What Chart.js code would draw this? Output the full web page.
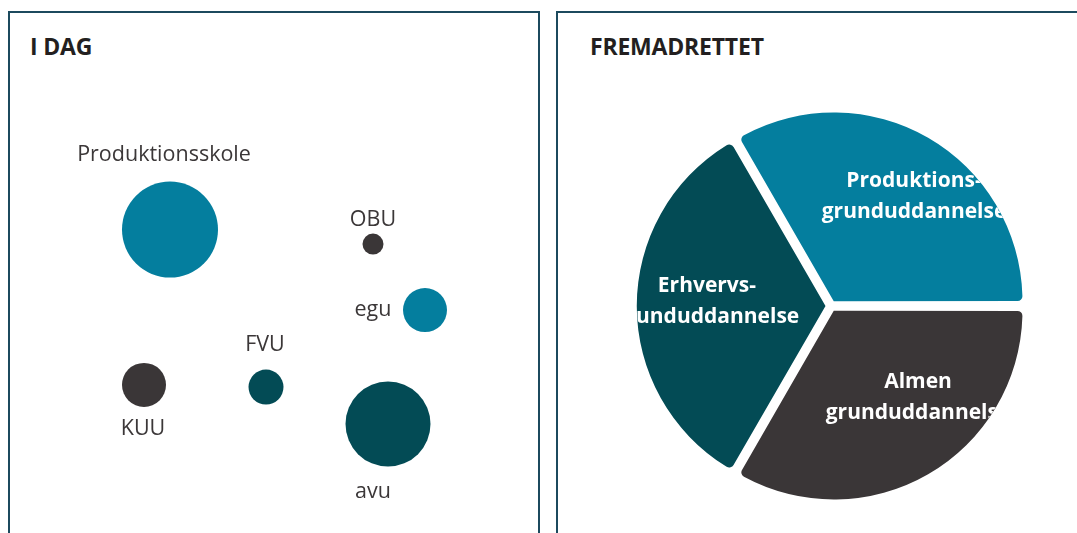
<!DOCTYPE html>
<html lang="da">
<head>
<meta charset="utf-8">
<title>I dag / Fremadrettet</title>
<script src="https://cdn.jsdelivr.net/npm/chart.js@4.4.1/dist/chart.umd.min.js"></script>
<style>
  html, body { margin: 0; padding: 0; background: #fff; }
  body { width: 1077px; height: 533px; position: relative; overflow: hidden; font-family: "Open Sans", "DejaVu Sans", sans-serif; }
  .panel { position: absolute; border: 2px solid #1c4a5e; box-sizing: border-box; }
  #left-panel { left: 8px; top: 11px; width: 532px; height: 540px; }
  #right-panel { left: 556px; top: 11px; width: 540px; height: 540px; }
  .panel-title { position: absolute; top: 35px; font-size: 23px; line-height: 22px; font-weight: 700; color: #231f20; letter-spacing: -0.2px; }
  .box { position: absolute; }
  /* bubble chart pads its area by the largest radius (48px), so the box is grown by that much */
  #bubble-box { left: -28px; top: 32px; width: 596px; height: 536px; }
  #pie-box { left: 611px; top: 86px; width: 440px; height: 440px; }
</style>
</head>
<body>
<div class="panel" id="left-panel"></div>
<div class="panel" id="right-panel"></div>
<div class="panel-title" style="left:30px">I DAG</div>
<div class="panel-title" style="left:590px">FREMADRETTET</div>
<div class="box" id="bubble-box"><canvas id="today-chart"></canvas></div>
<div class="box" id="pie-box"><canvas id="future-chart"></canvas></div>

<script>
// --- data: I DAG (bubbles on an unlabeled 0-100 grid) ---
const offerNames = ['Produktionsskole', 'OBU', 'egu', 'KUU', 'FVU', 'avu'];
const offerX = [30, 70.6, 81, 24.8, 49.2, 73.6];
const offerY = [66, 62.7, 47.7, 30.7, 30.2, 21.8];
const offerSize = [48, 10.5, 22, 22, 17.5, 42.5];
const offerGroup = ['teal', 'grey', 'teal', 'grey', 'dark', 'dark'];

// --- data: FREMADRETTET (three equal parts) ---
const futureNames = ['Produktionsgrunduddannelse', 'Almen grunduddannelse', 'Erhvervsgrunduddannelse'];
const futureLines = [['Produktions-', 'grunduddannelse'], ['Almen', 'grunduddannelse'], ['Erhvervs-', 'grunduddannelse']];
const futureShare = [1, 1, 1];
const futureGroup = ['teal', 'grey', 'dark'];

const palette = { teal: '#047e9e', grey: '#3a3637', dark: '#034b55' };
const FONT = '"Open Sans", "DejaVu Sans", sans-serif';

// where each bubble label sits relative to its bubble (px)
const bubbleLabelShift = [[-6, -75], [0, -24], [-52, 0], [-1, 44], [-1, -42], [-15, 68]];
// small nudges for the pie labels (px)
const pieLabelNudge = [[16, 13], [20, -19], [10, 1]];

const bubbleLabels = {
  id: 'bubbleLabels',
  afterDatasetsDraw(chart) {
    const { ctx } = chart;
    const meta = chart.getDatasetMeta(0);
    ctx.save();
    ctx.font = `400 21.5px ${FONT}`;
    ctx.fillStyle = '#3b3738';
    ctx.textAlign = 'center';
    ctx.textBaseline = 'middle';
    meta.data.forEach((pt, i) => {
      const [dx, dy] = bubbleLabelShift[i];
      ctx.fillText(offerNames[i], pt.x + dx, pt.y + dy);
    });
    ctx.restore();
  }
};

new Chart(document.getElementById('today-chart'), {
  type: 'bubble',
  data: {
    datasets: [{
      label: 'I dag',
      data: offerNames.map((n, i) => ({ x: offerX[i], y: offerY[i], r: offerSize[i] })),
      backgroundColor: offerGroup.map(g => palette[g]),
      borderWidth: 0,
      hoverRadius: 0,
      clip: false
    }]
  },
  options: {
    responsive: true,
    maintainAspectRatio: false,
    animation: false,
    layout: { padding: 0 },
    scales: {
      x: { type: 'linear', min: 0, max: 100, display: false },
      y: { type: 'linear', min: 0, max: 100, display: false }
    },
    plugins: { legend: { display: false }, tooltip: { enabled: false } }
  },
  plugins: [bubbleLabels]
});

// white labels inside each slice, clipped to the slice shape
const sliceLabels = {
  id: 'sliceLabels',
  afterDatasetsDraw(chart) {
    const { ctx } = chart;
    const meta = chart.getDatasetMeta(0);
    meta.data.forEach((arc, i) => {
      const { x, y, startAngle, endAngle, outerRadius } = arc.getProps(['x', 'y', 'startAngle', 'endAngle', 'outerRadius']);
      const mid = (startAngle + endAngle) / 2;
      // same shift the arc element applies when drawing an offset slice
      const fix = 1 - Math.sin(Math.min(Math.PI, endAngle - startAngle));
      const off = ((arc.options.offset || 0) / 4) * (1 + fix);
      const cx = x + Math.cos(mid) * off;
      const cy = y + Math.sin(mid) * off;
      ctx.save();
      ctx.beginPath();
      ctx.moveTo(cx, cy);
      ctx.arc(cx, cy, outerRadius, startAngle, endAngle);
      ctx.closePath();
      ctx.clip();
      const lx = cx + Math.cos(mid) * outerRadius * 0.68 + pieLabelNudge[i][0];
      const ly = cy + Math.sin(mid) * outerRadius * 0.68 + pieLabelNudge[i][1];
      ctx.font = `700 21px ${FONT}`;
      ctx.fillStyle = '#ffffff';
      ctx.textAlign = 'center';
      ctx.textBaseline = 'alphabetic';
      const lines = futureLines[i];
      const lh = 31;
      lines.forEach((t, k) => {
        ctx.fillText(t, lx, ly + 15.5 - lh * (lines.length - 1 - k));
      });
      ctx.restore();
    });
  }
};

new Chart(document.getElementById('future-chart'), {
  type: 'pie',
  data: {
    labels: futureNames,
    datasets: [{
      data: futureShare,
      backgroundColor: futureGroup.map(g => palette[g]),
      borderWidth: 0,
      offset: 22,
      hoverOffset: 0,
      borderRadius: 5,
      radius: 188
    }]
  },
  options: {
    responsive: true,
    maintainAspectRatio: false,
    animation: false,
    rotation: -30,
    layout: { padding: 0 },
    plugins: { legend: { display: false }, tooltip: { enabled: false } }
  },
  plugins: [sliceLabels]
});
</script>
</body>
</html>
